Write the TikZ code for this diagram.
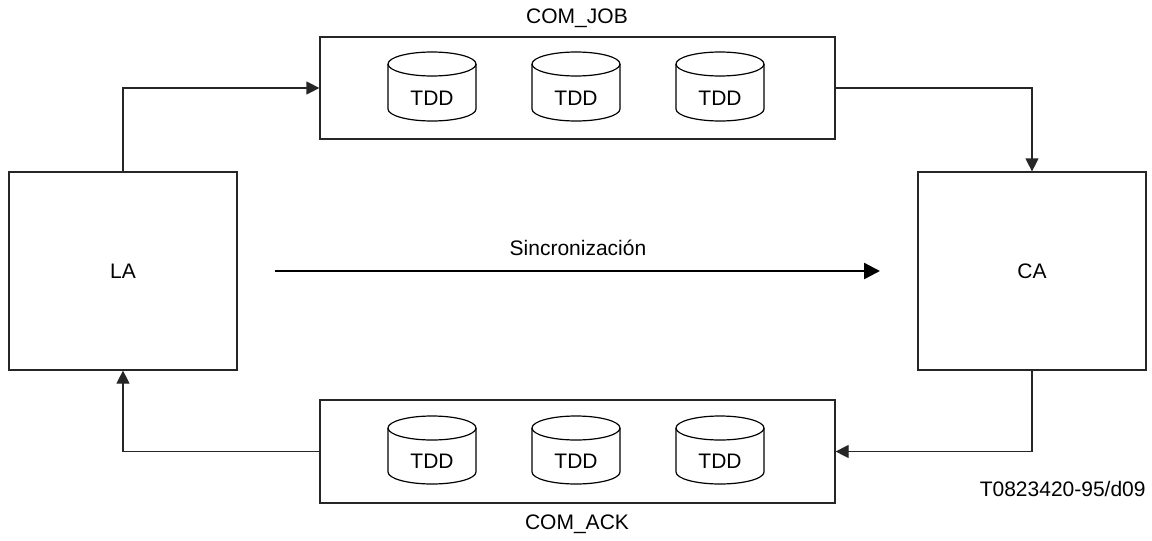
\documentclass[tikz,border=0pt]{standalone}
\usepackage{fontspec}
\setmainfont{Liberation Sans}
\usetikzlibrary{arrows.meta,calc}
\tikzset{
	unit/.style={draw=black!85, line width=0.6pt, minimum width=114pt, minimum height=99pt, font=\fontsize{10.5}{12}\selectfont},
	queue/.style={draw=black!85, line width=0.6pt, minimum width=257.5pt, minimum height=51pt},
	flow/.style={draw=black!85, line width=0.6pt, -{Triangle[length=6.5pt,width=6.5pt]}},
	lbl/.style={font=\fontsize{10.5}{12}\selectfont, inner sep=0pt}
}

\begin{document}
\begin{tikzpicture}[x=0.5pt,y=-0.5pt]
			\useasboundingbox (0,0) rectangle (1152,541);
			\node[unit] (la) at (123,271) {LA};
			\node[unit] (ca) at (1032,271) {CA};
			\node[queue] (comjob) at (577.5,88) {};
			\node[queue, minimum height=51.5pt] (comack) at (577.5,451.5) {};
			\node[lbl] (jobname) at (577,18) {COM\_JOB};
			\node[lbl] (ackname) at (577,524) {COM\_ACK};
			% TDD cylinders
			\foreach \x/\n in {432/1,576/2,720/3} {
				\draw[line width=0.6pt] (\x+44,64) -- (\x+44,109) arc[start angle=0,end angle=180,x radius=44,y radius=12] -- (\x-44,64);
				\draw[line width=0.6pt] (\x,64) ellipse[x radius=44,y radius=12];
				\node[lbl] (jobtdd\n) at (\x,98) {TDD};
				\draw[line width=0.6pt] (\x+44,428) -- (\x+44,472) arc[start angle=0,end angle=180,x radius=44,y radius=12] -- (\x-44,428);
				\draw[line width=0.6pt] (\x,428) ellipse[x radius=44,y radius=12];
				\node[lbl] (acktdd\n) at (\x,461) {TDD};
			}
			\draw[flow] (la.north) |- (comjob.west);
			\draw[flow] (comjob.east) -| (ca.north);
			\draw[flow] (ca.south) |- (comack.east);
			\draw[flow] (comack.west) -| (la.south);
			\coordinate (syncstart) at (275,271);
			\coordinate (syncend) at (880,271);
			\draw[draw=black, line width=1.2pt, -{Triangle[length=8pt,width=8pt]}] (syncstart) -- (syncend);
			\node[lbl] (syncname) at (578,248) {Sincronización};
			\node[lbl, anchor=east] (figid) at (1146,489) {T0823420-95/d09};
		\end{tikzpicture}
\end{document}
